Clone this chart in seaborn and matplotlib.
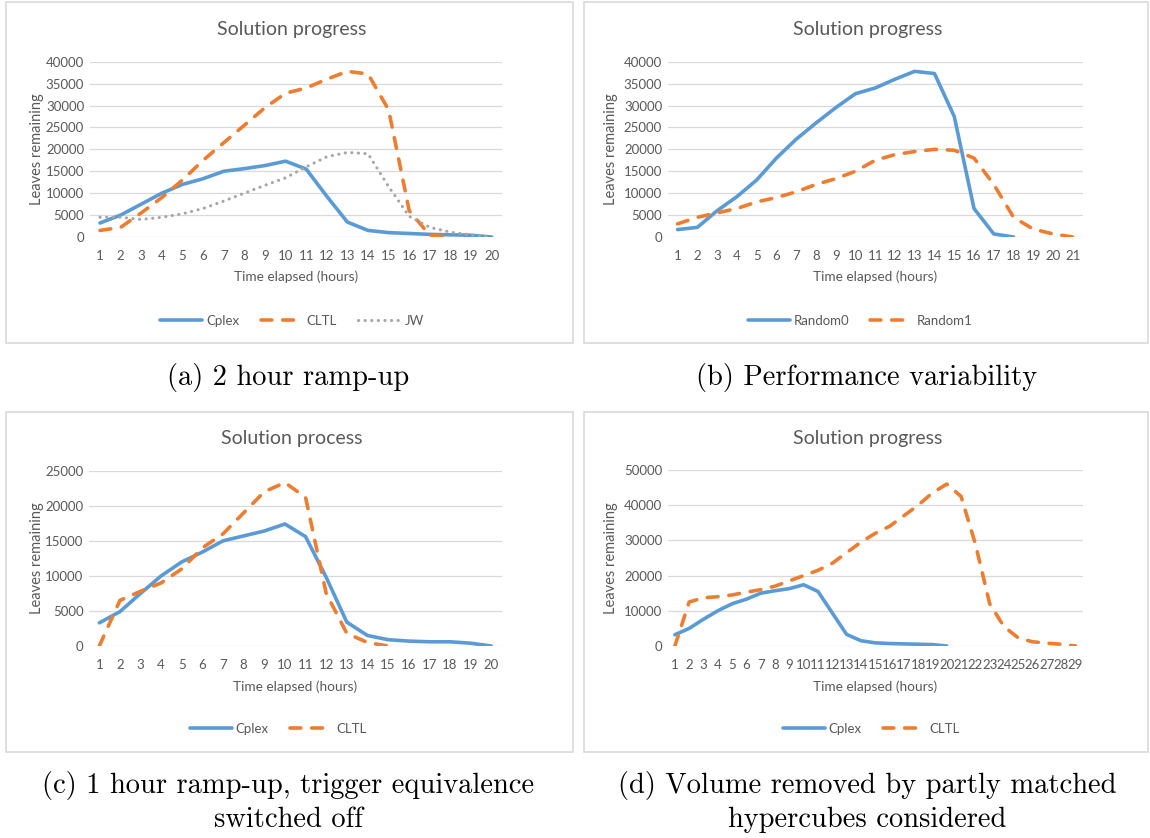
import matplotlib
matplotlib.use("Agg")
import matplotlib.pyplot as plt
import seaborn as sns
import pandas as pd
from matplotlib.patches import Rectangle

# ---------------- data ----------------
a_hours = list(range(1, 21))
a_cplex = [3200, 5000, 7500, 10000, 12000, 13300, 15000, 15600, 16300, 17300,
           15500, 9300, 3400, 1500, 1000, 800, 600, 500, 400, 0]
a_cltl_hours = list(range(1, 19))
a_cltl = [1500, 2200, 5500, 9000, 13000, 17500, 21500, 25500, 29500, 32800,
          34000, 36000, 37800, 37200, 29000, 6000, 400, 0]
a_jw = [4500, 4500, 4000, 4500, 5300, 6500, 8200, 10000, 11800, 13500,
        16000, 18300, 19300, 19000, 11500, 4700, 2200, 1100, 500, 0]

b_r0_hours = list(range(1, 19))
b_random0 = [1700, 2200, 6000, 9200, 13000, 18000, 22300, 26000, 29500, 32700,
             34000, 36000, 37800, 37300, 27500, 6500, 700, 0]
b_r1_hours = list(range(1, 22))
b_random1 = [3000, 4500, 5500, 6500, 8000, 9000, 10300, 12000, 13300, 15000,
             17500, 18800, 19500, 20000, 19800, 18000, 12000, 4500, 1800, 700, 0]

c_hours = list(range(1, 21))
c_cplex = [3300, 4900, 7500, 10000, 12000, 13400, 15000, 15700, 16400, 17400,
           15600, 9800, 3400, 1500, 900, 700, 600, 600, 400, 0]
c_cltl_hours = list(range(1, 16))
c_cltl = [0, 6500, 7800, 9000, 11000, 14000, 16000, 19000, 22000, 23300,
          21200, 7500, 1800, 500, 0]

d_cplex_hours = list(range(1, 21))
d_cplex = [3200, 5000, 7600, 10000, 12000, 13300, 15000, 15700, 16300, 17400,
           15500, 9400, 3300, 1500, 900, 700, 600, 500, 400, 0]
d_cltl_hours = list(range(1, 30))
d_cltl = [0, 12500, 13700, 14000, 14500, 15300, 16000, 17000, 18500, 20000,
          21500, 23500, 26500, 29500, 32000, 34000, 37000, 40000, 43500, 46000,
          42500, 29000, 12000, 5500, 2300, 1200, 800, 500, 0]

titles = ["Solution progress", "Solution progress", "Solution process", "Solution progress"]
captions = ["(a) 2 hour ramp-up", "(b) Performance variability",
            "(c) 1 hour ramp-up, trigger equivalence\nswitched off",
            "(d) Volume removed by partly matched\nhypercubes considered"]
xlabel_text = "Time elapsed (hours)"
ylabel_text = "Leaves remaining"

# ---------------- style ----------------
sns.set_style("white")
plt.rcParams["font.family"] = ["Lato", "DejaVu Sans"]

BLUE = "#5B9BD5"
ORANGE = "#ED7D31"
GRAY = "#A5A5A5"
TXT = "#595959"
GRID = "#D9D9D9"
LW = 2.6

W, H = 1150, 838
fig = plt.figure(figsize=(W / 100, H / 100), dpi=100)
fig.patch.set_facecolor("white")


def fx(x):
    return x / W


def fy(y):
    return 1 - y / H


def make_axes(x0, x1, ytop, ybot):
    return fig.add_axes([fx(x0), fy(ybot), fx(x1 - x0), (ybot - ytop) / H])


panels = [
    dict(ax=make_axes(89.7, 502, 61.7, 237), box=(6, 2.5, 573, 343), title_y=29,
         leg=(292, 321), ylab_x=37, ymax=40000, ystep=5000, ncat=20, xlab_y=277,
         cap=(288, 377)),
    dict(ax=make_axes(667.7, 1082.7, 61.7, 237), box=(584, 2.5, 1148, 343), title_y=29,
         leg=(860, 321), ylab_x=611, ymax=40000, ystep=5000, ncat=21, xlab_y=277,
         cap=(867, 377)),
    dict(ax=make_axes(89, 501.5, 470.7, 646), box=(6, 411.5, 573, 752), title_y=438,
         leg=(278, 729), ylab_x=37, ymax=25000, ystep=5000, ncat=20, xlab_y=687,
         cap=(288, 802)),
    dict(ax=make_axes(667.7, 1082.7, 470, 646), box=(584, 411.5, 1148, 752), title_y=438,
         leg=(871, 729), ylab_x=611, ymax=50000, ystep=10000, ncat=29, xlab_y=687,
         cap=(867, 802)),
]


def draw(ax, x, y, color, kind, label):
    sns.lineplot(x=x, y=y, ax=ax, color=color, linewidth=LW, label=label,
                 solid_capstyle="round", dash_capstyle="round")
    ln = ax.lines[-1]
    if kind == "dash":
        ln.set_dashes((3.0, 3.0))
    elif kind == "dot":
        ln.set_dashes((0.05, 2.1))
        ln.set_linewidth(LW * 0.85)


draw(panels[0]["ax"], a_hours, a_cplex, BLUE, "solid", "Cplex")
draw(panels[0]["ax"], a_cltl_hours, a_cltl, ORANGE, "dash", "CLTL")
draw(panels[0]["ax"], a_hours, a_jw, GRAY, "dot", "JW")

draw(panels[1]["ax"], b_r0_hours, b_random0, BLUE, "solid", "Random0")
draw(panels[1]["ax"], b_r1_hours, b_random1, ORANGE, "dash", "Random1")

draw(panels[2]["ax"], c_hours, c_cplex, BLUE, "solid", "Cplex")
draw(panels[2]["ax"], c_cltl_hours, c_cltl, ORANGE, "dash", "CLTL")

draw(panels[3]["ax"], d_cplex_hours, d_cplex, BLUE, "solid", "Cplex")
draw(panels[3]["ax"], d_cltl_hours, d_cltl, ORANGE, "dash", "CLTL")

for i, p in enumerate(panels):
    ax = p["ax"]
    n = p["ncat"]
    ax.set_xlim(0.5, n + 0.5)
    ax.set_ylim(0, p["ymax"])
    ax.set_xticks(range(1, n + 1))
    ax.set_xticklabels([str(k) for k in range(1, n + 1)])
    ax.set_yticks(range(0, p["ymax"] + 1, p["ystep"]))
    ax.set_yticklabels([str(v) for v in range(0, p["ymax"] + 1, p["ystep"])])
    ax.tick_params(axis="both", length=0, labelcolor=TXT, labelsize=9.5)
    ax.tick_params(axis="x", pad=9)
    ax.tick_params(axis="y", pad=4)
    for s in ax.spines.values():
        s.set_visible(False)
    ax.grid(axis="y", color=GRID, linewidth=0.9)
    ax.grid(axis="x", visible=False)
    ax.set_axisbelow(True)
    ax.set_xlabel("")
    ax.set_ylabel("")
    ax.patch.set_alpha(0)

    ncol = len(ax.get_legend_handles_labels()[0])
    ax.legend(loc="center", bbox_to_anchor=(fx(p["leg"][0]), fy(p["leg"][1])),
              bbox_transform=fig.transFigure, ncol=ncol, frameon=False,
              fontsize=9.5, handlelength=3.2, handletextpad=0.3,
              columnspacing=1.6, labelcolor=TXT)

    bx0, by0, bx1, by1 = p["box"]
    fig.patches.append(Rectangle((fx(bx0), fy(by1)), fx(bx1 - bx0), (by1 - by0) / H,
                                 transform=fig.transFigure, fill=False,
                                 edgecolor=GRID, linewidth=1.2, zorder=0))

    axcx = (bx0 + bx1) / 2 + 2
    fig.text(fx(axcx), fy(p["title_y"]), titles[i], ha="center", va="center",
             fontsize=14, color=TXT)
    pos = ax.get_position()
    fig.text(pos.x0 + pos.width / 2, fy(p["xlab_y"]), xlabel_text, ha="center",
             va="center", fontsize=9.8, color=TXT)
    fig.text(fx(p["ylab_x"]), pos.y0 + pos.height / 2, ylabel_text, ha="center",
             va="center", rotation=90, fontsize=10.5, color=TXT)

    fig.text(fx(p["cap"][0]), fy(p["cap"][1]), captions[i], ha="center", va="center",
             fontsize=20.5, family="cmr10", color="black", linespacing=1.35)

fig.savefig("out.png", dpi=100, facecolor="white")
